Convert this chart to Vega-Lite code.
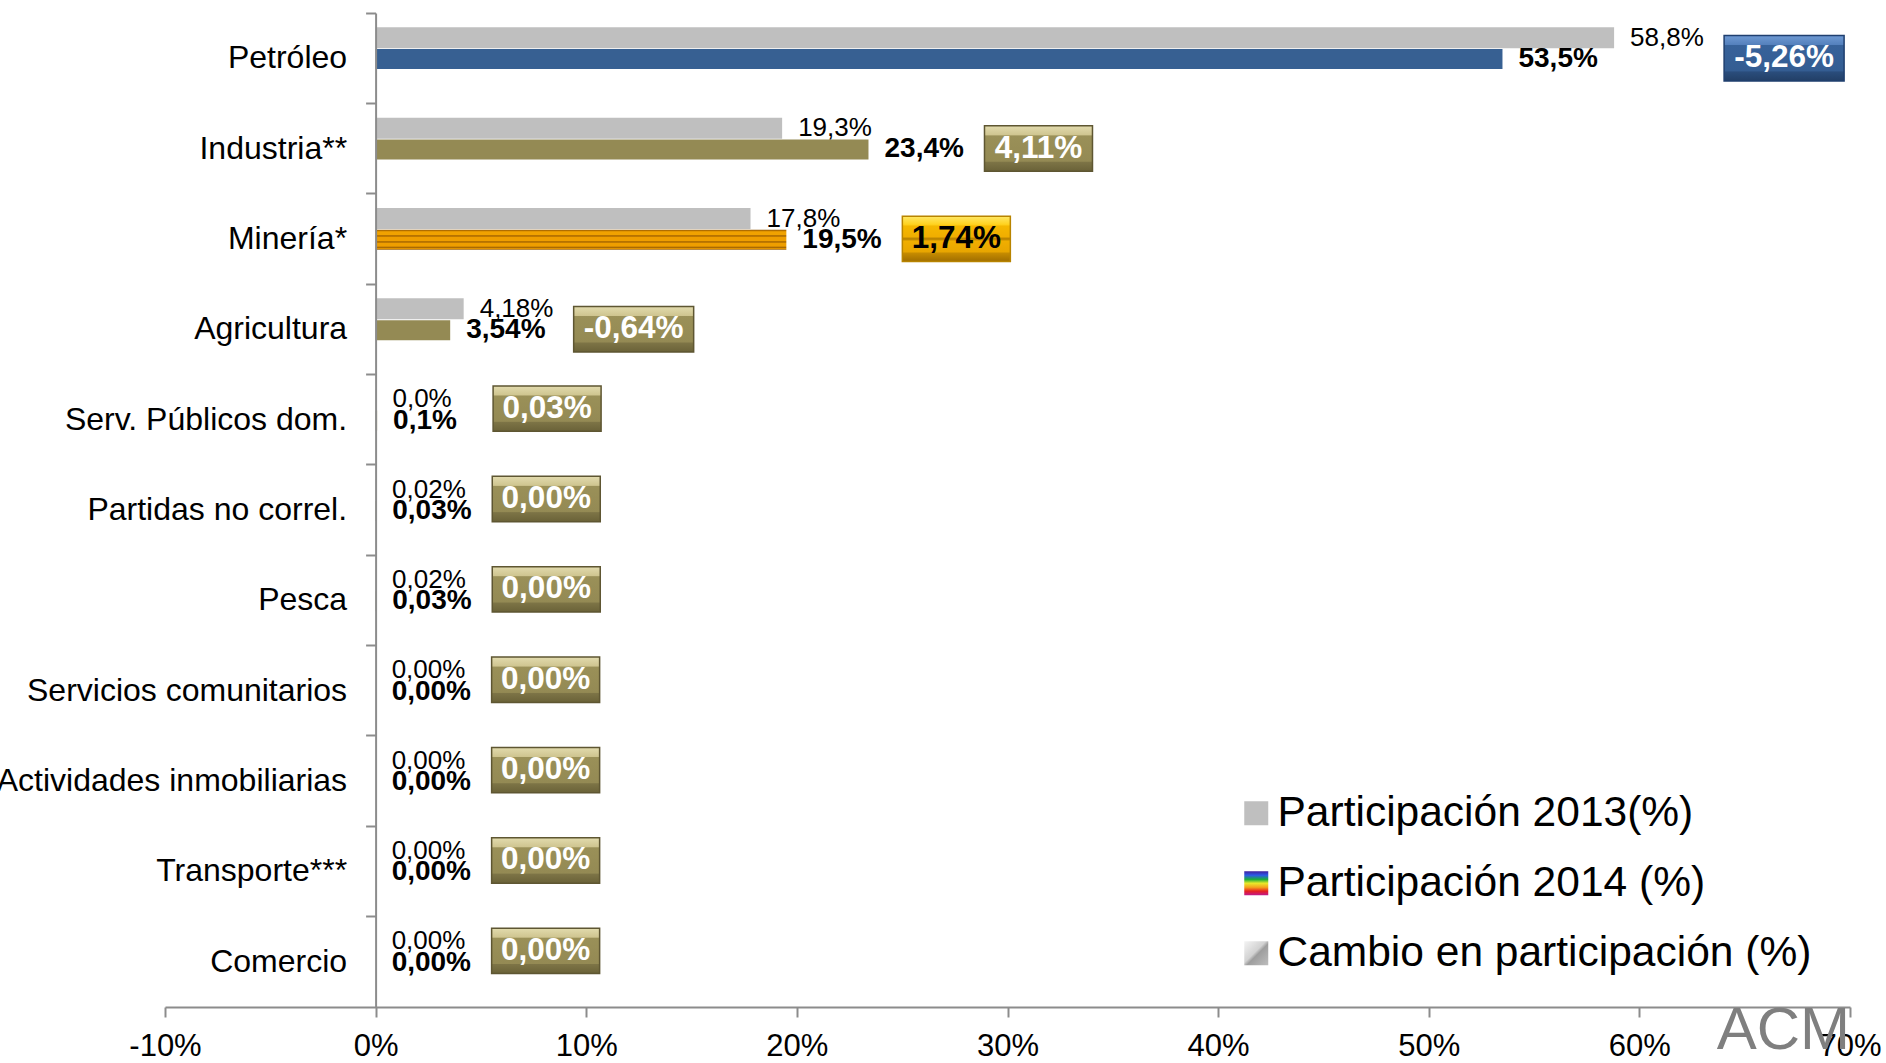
{
  "$schema": "https://vega.github.io/schema/vega-lite/v6.json",
  "width": 1685,
  "height": 994,
  "autosize": "none",
  "padding": {"left": 165, "top": 13, "right": 36, "bottom": 56},
  "config": {"font": "Liberation Sans", "view": {"stroke": null}},
  "title": {"text": "ACM", "orient": "bottom", "anchor": "end", "frame": "group", "offset": -59, "fontSize": 60, "fontWeight": "normal", "color": "#7F7F7F", "font": "Liberation Sans"},
  "data": {
    "values": [
      {"sector": "Petróleo", "p2013": 58.8, "p2014": 53.5, "cambio": -5.26, "l13": "58,8%", "l14": "53,5%", "lc": "-5,26%", "grupo": "azul"},
      {"sector": "Industria**", "p2013": 19.3, "p2014": 23.4, "cambio": 4.11, "l13": "19,3%", "l14": "23,4%", "lc": "4,11%", "grupo": "oliva"},
      {"sector": "Minería*", "p2013": 17.8, "p2014": 19.5, "cambio": 1.74, "l13": "17,8%", "l14": "19,5%", "lc": "1,74%", "grupo": "naranja"},
      {"sector": "Agricultura", "p2013": 4.18, "p2014": 3.54, "cambio": -0.64, "l13": "4,18%", "l14": "3,54%", "lc": "-0,64%", "grupo": "oliva"},
      {"sector": "Serv. Públicos dom.", "p2013": 0.04, "p2014": 0.07, "cambio": 0.03, "l13": "0,0%", "l14": "0,1%", "lc": "0,03%", "grupo": "oliva"},
      {"sector": "Partidas no correl.", "p2013": 0.02, "p2014": 0.03, "cambio": 0.0, "l13": "0,02%", "l14": "0,03%", "lc": "0,00%", "grupo": "oliva"},
      {"sector": "Pesca", "p2013": 0.02, "p2014": 0.03, "cambio": 0.0, "l13": "0,02%", "l14": "0,03%", "lc": "0,00%", "grupo": "oliva"},
      {"sector": "Servicios comunitarios", "p2013": 0.0, "p2014": 0.0, "cambio": 0.0, "l13": "0,00%", "l14": "0,00%", "lc": "0,00%", "grupo": "oliva"},
      {"sector": "Actividades inmobiliarias", "p2013": 0.0, "p2014": 0.0, "cambio": 0.0, "l13": "0,00%", "l14": "0,00%", "lc": "0,00%", "grupo": "oliva"},
      {"sector": "Transporte***", "p2013": 0.0, "p2014": 0.0, "cambio": 0.0, "l13": "0,00%", "l14": "0,00%", "lc": "0,00%", "grupo": "oliva"},
      {"sector": "Comercio", "p2013": 0.0, "p2014": 0.0, "cambio": 0.0, "l13": "0,00%", "l14": "0,00%", "lc": "0,00%", "grupo": "oliva"}
    ]
  },
  "transform": [{"calculate": "max(datum.p2013, datum.p2014)", "as": "ancla"}],
  "resolve": {"axis": {"y": "independent"}},
  "layer": [
    {
      "mark": {"type": "bar", "height": 21, "yOffset": -20.4},
      "encoding": {
        "y": {
          "field": "sector", "type": "nominal", "sort": null, "title": null,
          "scale": {"paddingInner": 0, "paddingOuter": 0},
          "axis": {"orient": "left", "offset": -210.6, "labelFontSize": 32, "labelColor": "#000000", "labelPadding": 19, "tickSize": 10, "tickOpacity": 0, "domainColor": "#8C8C8C", "domainWidth": 2, "labelLimit": 0, "grid": false, "zindex": 1}
        },
        "x": {
          "field": "p2013", "type": "quantitative", "title": null,
          "scale": {"domain": [-10, 70], "nice": false},
          "axis": {"values": [-10, 0, 10, 20, 30, 40, 50, 60, 70], "labelExpr": "datum.value + '%'", "labelFontSize": 31, "labelColor": "#000000", "labelPadding": 14, "labelFlush": false, "tickSize": 10, "tickColor": "#8C8C8C", "tickWidth": 2, "domainColor": "#8C8C8C", "domainWidth": 2, "grid": false}
        },
        "color": {
          "datum": "Participación 2013(%)",
          "scale": {
            "domain": ["Participación 2013(%)", "Participación 2014 (%)", "Cambio en participación (%)"],
            "range": [
              "#BFBFBF",
              {"expr": "{gradient: 'linear', x1: 0, y1: 0, x2: 0, y2: 1, stops: [{offset: 0, color: '#3F1F9F'}, {offset: 0.17, color: '#2C5BE8'}, {offset: 0.34, color: '#1AAE3A'}, {offset: 0.5, color: '#E9E92A'}, {offset: 0.67, color: '#F5A21E'}, {offset: 0.83, color: '#E62020'}, {offset: 1, color: '#C0188C'}]}"},
              {"expr": "{gradient: 'linear', x1: 0, y1: 0, x2: 1, y2: 1, stops: [{offset: 0, color: '#F4F4F4'}, {offset: 0.45, color: '#D2D2D2'}, {offset: 0.55, color: '#9E9E9E'}, {offset: 1, color: '#BDBDBD'}]}"}
            ]
          },
          "legend": {
            "orient": "none", "legendX": 1070, "legendY": 779, "title": null,
            "symbolType": "square", "symbolSize": 576, "symbolStrokeWidth": 0,
            "labelFontSize": 42.5, "labelColor": "#000000", "labelLimit": 0,
            "rowPadding": 27, "labelOffset": 0, "padding": 0
          }
        }
      }
    },
    {
      "mark": {"type": "bar", "height": 20, "yOffset": 0.9},
      "encoding": {
        "y": {
          "field": "sector", "type": "nominal", "sort": null, "title": null,
          "axis": {"orient": "left", "offset": -210.6, "labels": false, "domain": false, "ticks": true, "bandPosition": 0, "tickSize": 10, "tickColor": "#8C8C8C", "tickWidth": 2, "grid": false}
        },
        "x": {"field": "p2014", "type": "quantitative", "title": null, "scale": {"domain": [-10, 70], "nice": false}},
        "color": {
          "condition": [
            {"test": "datum.grupo === 'azul'", "value": "#376092"},
            {"test": "datum.grupo === 'naranja'", "value": {"gradient": "linear", "x1": 0, "y1": 0, "x2": 0, "y2": 1, "stops": [
              {"offset": 0, "color": "#8E5200"}, {"offset": 0.1, "color": "#F0A200"}, {"offset": 0.25, "color": "#F0A200"},
              {"offset": 0.3, "color": "#9C5E00"}, {"offset": 0.38, "color": "#EE9E00"}, {"offset": 0.55, "color": "#EE9E00"},
              {"offset": 0.6, "color": "#9C5E00"}, {"offset": 0.68, "color": "#EE9E00"}, {"offset": 0.82, "color": "#EE9E00"},
              {"offset": 0.87, "color": "#9C5E00"}, {"offset": 0.94, "color": "#E49600"}, {"offset": 1, "color": "#8E5200"}]}}
          ],
          "value": "#948A54"
        }
      }
    },
    {
      "mark": {"type": "text", "align": "left", "baseline": "middle", "dx": 16, "yOffset": -20.4, "fontSize": 26, "color": "#000000"},
      "encoding": {
        "y": {"field": "sector", "type": "nominal", "sort": null, "title": null, "axis": null},
        "x": {"field": "p2013", "type": "quantitative", "title": null, "scale": {"domain": [-10, 70], "nice": false}},
        "text": {"field": "l13"}
      }
    },
    {
      "mark": {"type": "text", "align": "left", "baseline": "middle", "dx": 16, "yOffset": 0.9, "fontSize": 28, "fontWeight": "bold", "color": "#000000"},
      "encoding": {
        "y": {"field": "sector", "type": "nominal", "sort": null, "title": null, "axis": null},
        "x": {"field": "p2014", "type": "quantitative", "title": null, "scale": {"domain": [-10, 70], "nice": false}},
        "text": {"field": "l14"}
      }
    },
    {
      "mark": {"type": "point", "size": 11664, "filled": true, "opacity": 1, "xOffset": 170, "yOffset": {"expr": "datum.ancla < 1 ? -11 : 0"}, "strokeWidth": 1.5},
      "encoding": {
        "y": {"field": "sector", "type": "nominal", "sort": null, "title": null, "axis": null},
        "x": {"field": "ancla", "type": "quantitative", "title": null, "scale": {"domain": [-10, 70], "nice": false}},
        "size": {"condition": {"test": "datum.cambio < 0", "value": 14400}, "value": 11664},
        "shape": {"condition": {"test": "datum.cambio < 0", "value": "M -1 -0.38 L 1 -0.38 L 1 0.38 L -1 0.38 Z"}, "value": "M -1 -0.42 L 1 -0.42 L 1 0.42 L -1 0.42 Z"},
        "fill": {
          "condition": [
            {"test": "datum.grupo === 'azul'", "value": {"gradient": "linear", "x1": 0, "y1": 0, "x2": 0, "y2": 1, "stops": [
              {"offset": 0, "color": "#6F9AD3"}, {"offset": 0.2, "color": "#5581BD"}, {"offset": 0.22, "color": "#37629A"},
              {"offset": 0.78, "color": "#345D92"}, {"offset": 0.8, "color": "#2A4D7C"}, {"offset": 1, "color": "#223F66"}]}},
            {"test": "datum.grupo === 'naranja'", "value": {"gradient": "linear", "x1": 0, "y1": 0, "x2": 0, "y2": 1, "stops": [
              {"offset": 0, "color": "#FFE866"}, {"offset": 0.18, "color": "#FFD21F"}, {"offset": 0.22, "color": "#F5B800"},
              {"offset": 0.45, "color": "#F0AE00"}, {"offset": 0.5, "color": "#B07C00"}, {"offset": 0.55, "color": "#F0AE00"},
              {"offset": 0.78, "color": "#E8A600"}, {"offset": 0.82, "color": "#C48A00"}, {"offset": 1, "color": "#A06E00"}]}}
          ],
          "value": {"gradient": "linear", "x1": 0, "y1": 0, "x2": 0, "y2": 1, "stops": [
            {"offset": 0, "color": "#E2DBAE"}, {"offset": 0.2, "color": "#CFC590"}, {"offset": 0.22, "color": "#9A9058"},
            {"offset": 0.78, "color": "#948A54"}, {"offset": 0.8, "color": "#7D7446"}, {"offset": 1, "color": "#6A6238"}]}
        },
        "stroke": {
          "condition": [
            {"test": "datum.grupo === 'azul'", "value": "#1F3F6F"},
            {"test": "datum.grupo === 'naranja'", "value": "#B88400"}
          ],
          "value": "#5E5632"
        }
      }
    },
    {
      "mark": {"type": "text", "align": "center", "baseline": "middle", "xOffset": 170, "yOffset": {"expr": "datum.ancla < 1 ? -11 : 0"}, "fontSize": 31.5, "fontWeight": "bold"},
      "encoding": {
        "y": {"field": "sector", "type": "nominal", "sort": null, "title": null, "axis": null},
        "x": {"field": "ancla", "type": "quantitative", "title": null, "scale": {"domain": [-10, 70], "nice": false}},
        "text": {"field": "lc"},
        "color": {"condition": {"test": "datum.grupo === 'naranja'", "value": "#000000"}, "value": "#FFFFFF"}
      }
    }
  ]
}
